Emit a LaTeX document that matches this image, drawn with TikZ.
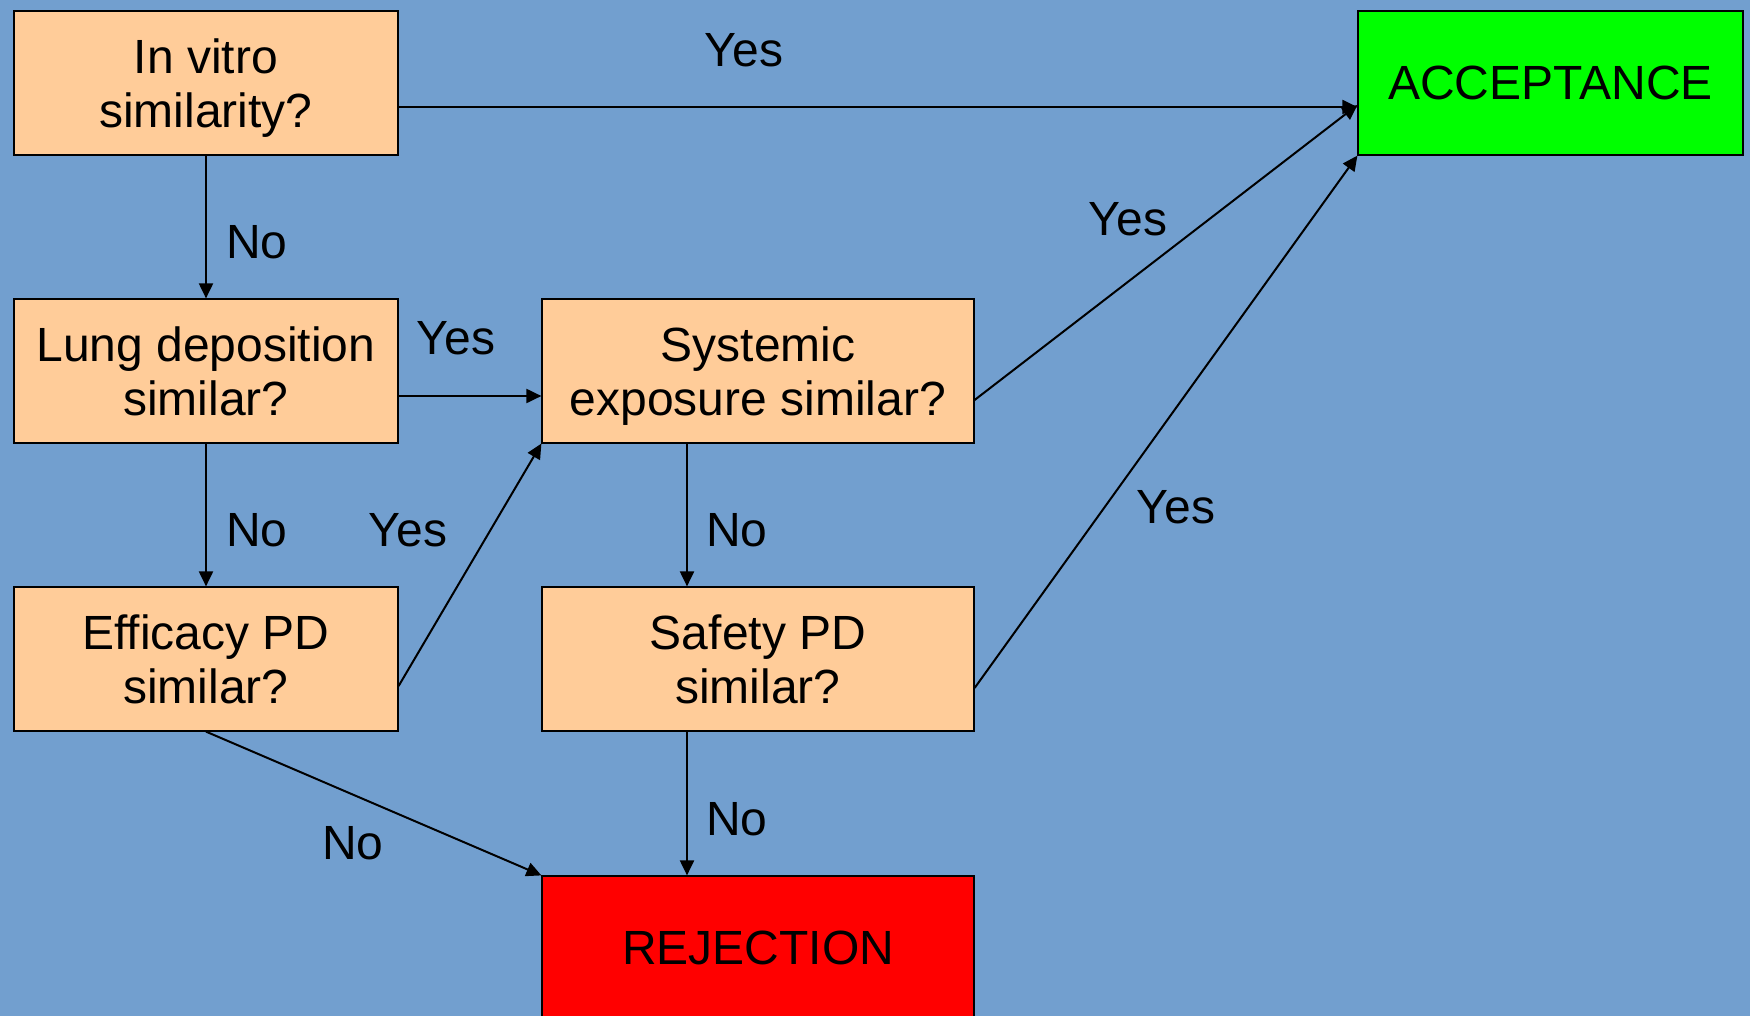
\documentclass[tikz,border=0pt]{standalone}
\usepackage{fontspec}
\setmainfont{Liberation Sans}
\usetikzlibrary{arrows.meta}
\definecolor{bgblue}{RGB}{114,159,207}
\definecolor{peach}{RGB}{255,204,153}
\definecolor{accgreen}{RGB}{0,255,0}
\definecolor{rejred}{RGB}{255,0,0}
\newcommand{\topstrut}{\rule{0pt}{23pt}}
\newcommand{\botstrut}{\rule[-5.5pt]{0pt}{5.5pt}}
\tikzset{
  qbox/.style={rectangle,draw,fill=peach,line width=0.6pt,minimum width=192pt,minimum height=72pt,align=center,font=\fontsize{24}{27}\selectfont,inner sep=0pt},
  flow/.style={-{Triangle[length=7.5pt,width=7pt]},line width=1pt},
  lbl/.style={font=\fontsize{24}{27}\selectfont,inner sep=0pt}
}
\begin{document}
\begin{tikzpicture}[x=0.5pt,y=-0.5pt]
\useasboundingbox (0,0) rectangle (1750,1016);
\fill[bgblue] (0,0) rectangle (1750,1016);
\begin{scope}
\clip (0,0) rectangle (1750,1016);
\node[qbox] (vitro) at (206,83) {\topstrut In vitro\\similarity?\botstrut};
\node[qbox] (lung) at (206,371) {\topstrut Lung deposition\\similar?\botstrut};
\node[qbox] (eff) at (206,659) {\topstrut Efficacy PD\\similar?\botstrut};
\node[qbox,minimum width=216pt] (sys) at (758,371) {\topstrut Systemic\\exposure similar?\botstrut};
\node[qbox,minimum width=216pt] (safe) at (758,659) {\topstrut Safety PD\\similar?\botstrut};
\node[qbox,minimum width=216pt,fill=rejred] (rej) at (758,948) {REJECTION};
\node[qbox,minimum width=192.5pt,fill=accgreen] (acc) at (1550.5,83) {ACCEPTANCE};
\end{scope}
% yes branches
\draw[flow] ([yshift=-12pt]vitro.east) -- ([yshift=-12pt]acc.west);
\draw[flow] ([yshift=-12.5pt]lung.east) -- ([yshift=-12.5pt]sys.west);
\draw[flow] ([yshift=-13.5pt]eff.east) -- (sys.south west);
\draw[flow] ([yshift=-14.5pt]sys.east) -- ([yshift=-11pt]acc.west);
\draw[flow] ([yshift=-14.5pt]safe.east) -- (acc.south west);
% no branches
\draw[flow] (vitro.south) -- (lung.north);
\draw[flow] (lung.south) -- (eff.north);
\draw[flow] ([xshift=-35.5pt]sys.south) -- ([xshift=-35.5pt]safe.north);
\draw[flow] ([xshift=-35.5pt]safe.south) -- ([xshift=-35.5pt]rej.north);
\draw[flow] (eff.south) -- (rej.north west);
% labels
\node[lbl] (y1) at (744,50) {Yes};
\node[lbl] (n1) at (257,242) {No};
\node[lbl] (y2) at (456,338) {Yes};
\node[lbl] (n2) at (257,530) {No};
\node[lbl] (y3) at (408,530) {Yes};
\node[lbl] (y4) at (1128,219) {Yes};
\node[lbl] (n3) at (737,530) {No};
\node[lbl] (y5) at (1176,507) {Yes};
\node[lbl] (n4) at (737,819) {No};
\node[lbl] (n5) at (353,843) {No};
\end{tikzpicture}
\end{document}
